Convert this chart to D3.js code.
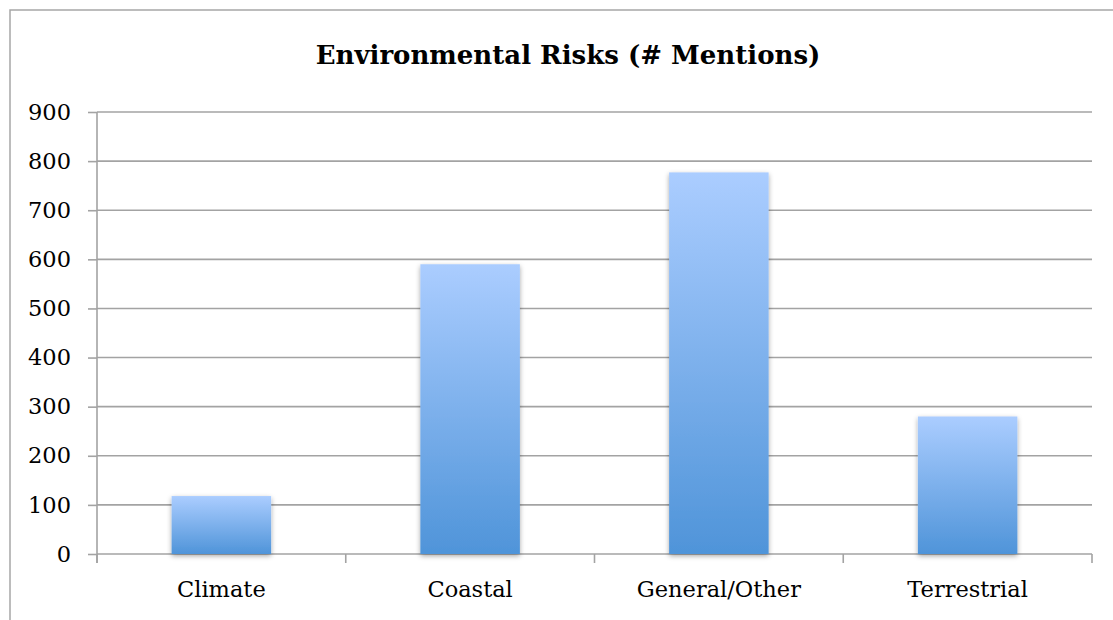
<!DOCTYPE html>
<html>
<head>
<meta charset="utf-8">
<script src="https://cdn.jsdelivr.net/npm/d3@7"></script>
<style>
  html, body { margin: 0; padding: 0; background: #ffffff; }
  svg { display: block; }
  text { font-family: "DejaVu Serif", "Liberation Serif", serif; fill: #000; }
</style>
</head>
<body>
<svg id="chart" width="1113" height="620"></svg>
<script>
// Mentions of each environmental risk category
const categories = ["Climate", "Coastal", "General/Other", "Terrestrial"];
const mentions = [118, 590, 777, 280];
const yTicks = [0, 100, 200, 300, 400, 500, 600, 700, 800, 900];
const title = "Environmental Risks (# Mentions)";

const svg = d3.select("#chart");
const W = 1113, H = 620;
const plot = { left: 97, right: 1092, top: 112, bottom: 554 };

// chart frame
svg.append("rect")
  .attr("x", 10).attr("y", 10)
  .attr("width", W + 20).attr("height", H + 20)
  .attr("fill", "#fff").attr("stroke", "#a6a6a6").attr("stroke-width", 1.5);

const defs = svg.append("defs");
const grad = defs.append("linearGradient")
  .attr("id", "barFill").attr("x1", 0).attr("y1", 0).attr("x2", 0).attr("y2", 1);
grad.append("stop").attr("offset", "0%").attr("stop-color", "#abcdff");
grad.append("stop").attr("offset", "100%").attr("stop-color", "#4f94d9");

const shadow = defs.append("filter").attr("id", "barShadow")
  .attr("x", "-20%").attr("y", "-10%").attr("width", "140%").attr("height", "130%");
shadow.append("feDropShadow")
  .attr("dx", 0).attr("dy", 2).attr("stdDeviation", 2.5)
  .attr("flood-color", "#000").attr("flood-opacity", 0.35);

const y = d3.scaleLinear().domain([0, 900]).range([plot.bottom, plot.top]);
const x = d3.scaleBand().domain(categories)
  .range([plot.left, plot.right]).paddingInner(0.6).paddingOuter(0.3);

const gridColor = "#a3a3a3";

// horizontal gridlines
svg.append("g").selectAll("line").data(yTicks).join("line")
  .attr("x1", plot.left).attr("x2", plot.right)
  .attr("y1", d => y(d)).attr("y2", d => y(d))
  .attr("stroke", gridColor).attr("stroke-width", 1.6);

// y axis
const yAxis = d3.axisLeft(y).tickValues(yTicks).tickSize(9).tickPadding(17)
  .tickFormat(d3.format("d"));
const gy = svg.append("g").attr("transform", `translate(${plot.left},0)`).call(yAxis);
gy.select(".domain").remove();
gy.selectAll(".tick line").attr("stroke", gridColor).attr("stroke-width", 1.6);
gy.selectAll(".tick text")
  .style("font-family", '"DejaVu Serif", serif').style("font-size", "22.5px").attr("fill", "#000");
svg.append("line")
  .attr("x1", plot.left).attr("x2", plot.left)
  .attr("y1", plot.top).attr("y2", plot.bottom + 9)
  .attr("stroke", gridColor).attr("stroke-width", 1.6);

// category boundary ticks
const step = x.step();
const bounds = categories.map(c => x(c) - (step - x.bandwidth()) / 2).concat([plot.right]);
svg.append("g").selectAll("line").data(bounds).join("line")
  .attr("x1", d => d).attr("x2", d => d)
  .attr("y1", plot.bottom).attr("y2", plot.bottom + 9)
  .attr("stroke", gridColor).attr("stroke-width", 1.6);

// bars
svg.append("g").selectAll("rect").data(categories).join("rect")
  .attr("x", c => x(c))
  .attr("y", (c, i) => y(mentions[i]))
  .attr("width", x.bandwidth())
  .attr("height", (c, i) => y(0) - y(mentions[i]))
  .attr("fill", "url(#barFill)")
  .attr("filter", "url(#barShadow)");

// category labels
svg.append("g").selectAll("text").data(categories).join("text")
  .attr("x", c => x(c) + x.bandwidth() / 2)
  .attr("y", 597)
  .attr("text-anchor", "middle")
  .style("font-size", "22.5px")
  .text(c => c);

// title
svg.append("text")
  .attr("x", 568).attr("y", 64)
  .attr("text-anchor", "middle")
  .style("font-size", "26px").style("font-weight", "bold")
  .text(title);
</script>
</body>
</html>
